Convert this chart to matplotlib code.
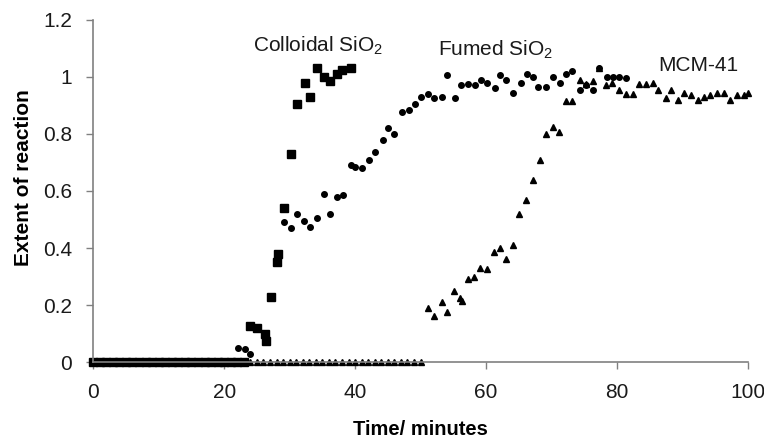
import matplotlib
matplotlib.use("Agg")
from matplotlib import pyplot as plt

plt.rcParams['font.family'] = ['Liberation Sans', 'DejaVu Sans']
plt.rcParams['mathtext.fontset'] = 'custom'
plt.rcParams['mathtext.rm'] = 'Liberation Sans'
plt.rcParams['mathtext.it'] = 'Liberation Sans'

# ----- data (time in minutes, extent of reaction) -----
colloidal_t = [0, 1, 2, 3, 4, 5, 6, 7, 8, 9, 10, 11, 12, 13, 14, 15, 16, 17, 18, 19,
               20, 21, 22, 23, 24.0, 25.0, 26.2, 26.4, 27.1, 28.1, 28.2, 29.1, 30.2,
               31.2, 32.3, 33.1, 34.2, 35.3, 36.2, 37.2, 38.0, 39.3]
colloidal_y = [0, 0, 0, 0, 0, 0, 0, 0, 0, 0, 0, 0, 0, 0, 0, 0, 0, 0, 0, 0,
               0, 0, 0, 0, 0.125, 0.12, 0.10, 0.075, 0.23, 0.35, 0.38, 0.54, 0.73,
               0.905, 0.98, 0.93, 1.03, 1.0, 0.985, 1.01, 1.025, 1.03]

fumed_t = [0, 1, 2, 3, 4, 5, 6, 7, 8, 9, 10, 11, 12, 13, 14, 15, 16, 17, 18, 19,
           20, 21, 22.1, 23.2, 24.0, 29.1, 30.2, 31.2, 32.2, 33.1, 34.2, 35.2, 36.2,
           37.2, 38.2, 39.3, 40.0, 41.1, 42.1, 43.1, 44.2, 45.1, 46.0, 47.1, 48.2,
           49.1, 50.1, 51.1, 52.1, 53.2, 54.1, 55.2, 56.2, 57.2, 58.3, 59.3, 60.2,
           61.3, 62.2, 63.1, 64.1, 65.3, 66.2, 67.1, 68.0, 69.1, 70.3, 71.3, 72.2,
           73.2, 74.3, 75.3, 76.3, 77.2, 78.4, 79.4, 80.3, 81.3]
fumed_y = [0, 0, 0, 0, 0, 0, 0, 0, 0, 0, 0, 0, 0, 0, 0, 0, 0, 0, 0, 0,
           0, 0, 0.05, 0.045, 0.03, 0.49, 0.47, 0.52, 0.495, 0.475, 0.505, 0.59, 0.52,
           0.58, 0.585, 0.69, 0.685, 0.68, 0.71, 0.735, 0.78, 0.82, 0.80, 0.877, 0.885,
           0.905, 0.93, 0.94, 0.925, 0.93, 1.005, 0.925, 0.97, 0.975, 0.97, 0.99, 0.98,
           0.96, 1.005, 0.99, 0.945, 0.98, 1.01, 1.0, 0.965, 0.965, 1.0, 0.98, 1.01,
           1.02, 0.955, 0.97, 0.955, 1.03, 1.0, 1.0, 1.0, 0.995]

mcm_t = [0, 1, 2, 3, 4, 5, 6, 7, 8, 9, 10, 11, 12, 13, 14, 15, 16, 17, 18, 19,
         20, 21, 22, 23, 24, 25, 26, 27, 28, 29, 30, 31, 32, 33, 34, 35, 36, 37, 38,
         39, 40, 41, 42, 43, 44, 45, 46, 47, 48, 49, 50,
         51.1, 52.1, 53.2, 54.1, 55.1, 56.0, 56.3, 57.2, 58.1, 59.0, 60.1, 61.2,
         62.1, 63.0, 64.1, 65.0, 66.1, 67.1, 68.2, 69.1, 70.2, 71.2, 72.2, 73.2,
         74.3, 75.3, 76.3, 77.2, 78.3, 79.3, 80.3, 81.3, 82.4, 83.3, 84.4, 85.5,
         86.2, 87.5, 88.2, 89.3, 90.2, 91.3, 92.4, 93.3, 94.2, 95.3, 96.3, 97.2,
         98.3, 99.4, 100.0]
mcm_y = [0, 0, 0, 0, 0, 0, 0, 0, 0, 0, 0, 0, 0, 0, 0, 0, 0, 0, 0, 0,
         0, 0, 0, 0, 0, 0, 0, 0, 0, 0, 0, 0, 0, 0, 0, 0, 0, 0, 0,
         0, 0, 0, 0, 0, 0, 0, 0, 0, 0, 0, 0,
         0.19, 0.16, 0.21, 0.175, 0.25, 0.225, 0.215, 0.29, 0.30, 0.33, 0.325, 0.385,
         0.40, 0.36, 0.41, 0.52, 0.57, 0.64, 0.71, 0.80, 0.825, 0.805, 0.915, 0.915,
         0.99, 0.975, 0.985, 1.03, 0.97, 0.98, 0.955, 0.94, 0.94, 0.975, 0.975, 0.98,
         0.955, 0.925, 0.955, 0.92, 0.945, 0.935, 0.92, 0.93, 0.935, 0.945, 0.945, 0.92,
         0.935, 0.935, 0.945]

x_ticks = [0, 20, 40, 60, 80, 100]
y_ticks = [0, 0.2, 0.4, 0.6, 0.8, 1, 1.2]
y_tick_labels = ['0', '0.2', '0.4', '0.6', '0.8', '1', '1.2']

fig = plt.figure(figsize=(7.64, 4.40), dpi=100)
ax = fig.add_axes([0.122, 0.177, 0.857, 0.778])

ax.plot(mcm_t, mcm_y, linestyle='none', marker='^', markersize=4.5, color='black',
        clip_on=False)
ax.plot(fumed_t, fumed_y, linestyle='none', marker='o', markersize=4, color='black',
        clip_on=False)
ax.plot(colloidal_t, colloidal_y, linestyle='none', marker='s', markersize=5.2, color='black',
        clip_on=False)

# series labels written on the plot
ax.text(34.3, 1.11, 'Colloidal SiO$_2$', fontsize=15, ha='center', va='center', color='#1a1a1a')
ax.text(61.5, 1.095, 'Fumed SiO$_2$', fontsize=15, ha='center', va='center', color='#1a1a1a')
ax.text(92.4, 1.04, 'MCM-41', fontsize=15, ha='center', va='center', color='#1a1a1a')

ax.set_xlim(0, 100)
ax.set_ylim(0, 1.2)
ax.set_xticks(x_ticks)
ax.set_yticks(y_ticks)
ax.set_yticklabels(y_tick_labels)

ax.spines['top'].set_visible(False)
ax.spines['right'].set_visible(False)
for side in ['left', 'bottom']:
    ax.spines[side].set_color('#808080')
    ax.spines[side].set_linewidth(1.2)

ax.tick_params(axis='both', which='major', labelsize=15, colors='#808080',
               labelcolor='#1a1a1a', length=5, width=1)
ax.tick_params(axis='x', pad=10)
ax.tick_params(axis='y', pad=10)

ax.set_xlabel('Time/ minutes', fontsize=14.5, fontweight='bold')
ax.set_ylabel('Extent of reaction', fontsize=15, fontweight='bold')
ax.xaxis.set_label_coords(0.5, -0.17)
ax.yaxis.set_label_coords(-0.092, 0.54)

fig.savefig('out.png', dpi=100)
